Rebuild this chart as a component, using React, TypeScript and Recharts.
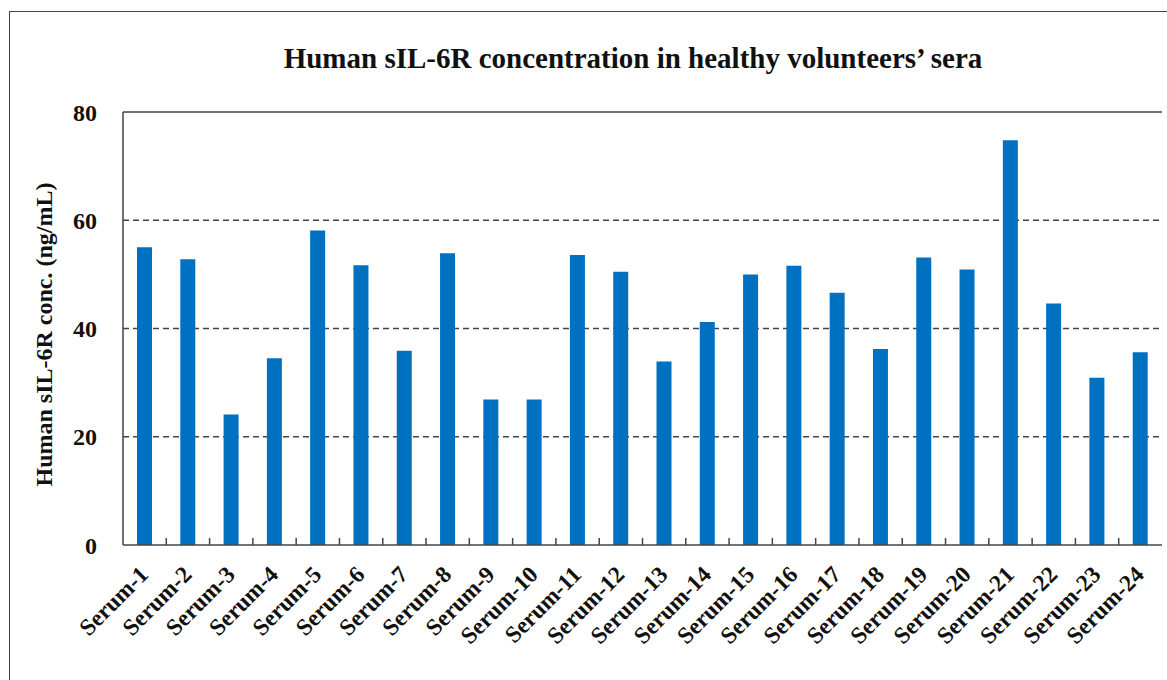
import React from 'react';
import {
    BarChart,
    Bar,
    XAxis,
    YAxis,
    CartesianGrid,
} from 'recharts';

// Values (ng/mL)
const samples = Array.from({ length: 24 }, (_, i) => `Serum-${i + 1}`);
const concentrations = [
    55.0, 52.8, 24.1, 34.5, 58.1, 51.7, 35.9, 53.9,
    26.9, 26.9, 53.6, 50.5, 33.9, 41.2, 50.0, 51.6,
    46.6, 36.2, 53.1, 50.9, 74.8, 44.6, 30.9, 35.6,
];
const yTicks = [0, 20, 40, 60, 80];
const gridValues = [20, 40, 60];

const data = samples.map((name, i) => ({ name, value: concentrations[i] }));

const FONT = '"Liberation Serif", "Times New Roman", serif';
const INK = '#111';
const FRAME = '#444';

// label rotated 45deg plus a short tick mark on the boundary to the right
const SampleTick = ({ x, y, payload, index, width, visibleTicksCount }: any) => {
    const half = width / visibleTicksCount / 2;
    const lx = x + 5;
    const ly = y + 31;
    return (
        <g>
            {index < visibleTicksCount - 1 && (
                <line x1={x + half} x2={x + half} y1={y} y2={y - 7} stroke={FRAME} strokeWidth={1.5} />
            )}
            <text
                x={lx}
                y={ly}
                transform={`rotate(-45, ${lx}, ${ly})`}
                textAnchor="end"
                fontFamily={FONT}
                fontWeight="bold"
                fontSize={23.5}
                fill={INK}
            >
                {payload.value}
            </text>
        </g>
    );
};

const YTitle = ({ viewBox }: any) => {
    const cy = viewBox.y + viewBox.height / 2 + 6;
    return (
        <text
            x={52}
            y={cy}
            transform={`rotate(-90, 52, ${cy})`}
            textAnchor="middle"
            fontFamily={FONT}
            fontWeight="bold"
            fontSize={24}
            fill={INK}
        >
            Human sIL-6R conc. (ng/mL)
        </text>
    );
};

const frameLine = { stroke: FRAME, strokeWidth: 1.5 };

export default function App() {
    return (
        <div style={{ position: 'fixed', left: 0, top: 0, width: 1167, height: 680, overflow: 'hidden', background: '#fff' }}>
            <div style={{ position: 'absolute', left: 9, top: 11, width: 1200, height: 720, border: '1.5px solid #444' }} />
            <div
                style={{
                    position: 'absolute',
                    left: 633,
                    top: 42,
                    transform: 'translateX(-50%)',
                    whiteSpace: 'nowrap',
                    fontFamily: FONT,
                    fontWeight: 'bold',
                    fontSize: 29,
                    color: INK,
                }}
            >
                Human sIL-6R concentration in healthy volunteers’ sera
            </div>
            <div style={{ position: 'absolute', left: 0, top: 0 }}>
                <BarChart
                    width={1167}
                    height={680}
                    data={data}
                    margin={{ top: 111, right: 5, bottom: 0, left: 63 }}
                >
                    <CartesianGrid
                        vertical={false}
                        horizontalValues={gridValues}
                        stroke="#444"
                        strokeWidth={1.5}
                        strokeDasharray="6 4"
                    />
                    <XAxis
                        dataKey="name"
                        interval={0}
                        height={135}
                        axisLine={frameLine}
                        tickLine={false}
                        tickSize={0}
                        tickMargin={0}
                        tick={<SampleTick />}
                    />
                    <XAxis
                        xAxisId="top"
                        orientation="top"
                        dataKey="name"
                        height={1}
                        tick={false}
                        tickLine={false}
                        axisLine={frameLine}
                    />
                    <YAxis
                        domain={[0, 80]}
                        ticks={yTicks}
                        width={60}
                        axisLine={frameLine}
                        tickLine={false}
                        tickSize={0}
                        tickMargin={26}
                        tick={{ fontFamily: FONT, fontWeight: 'bold', fontSize: 24, fill: INK }}
                        label={<YTitle />}
                    />
                    <YAxis
                        yAxisId="right"
                        orientation="right"
                        domain={[0, 80]}
                        width={0}
                        tick={false}
                        tickLine={false}
                        axisLine={frameLine}
                    />
                    <Bar dataKey="value" fill="#0070C0" barSize={15} isAnimationActive={false} />
                </BarChart>
            </div>
        </div>
    );
}
